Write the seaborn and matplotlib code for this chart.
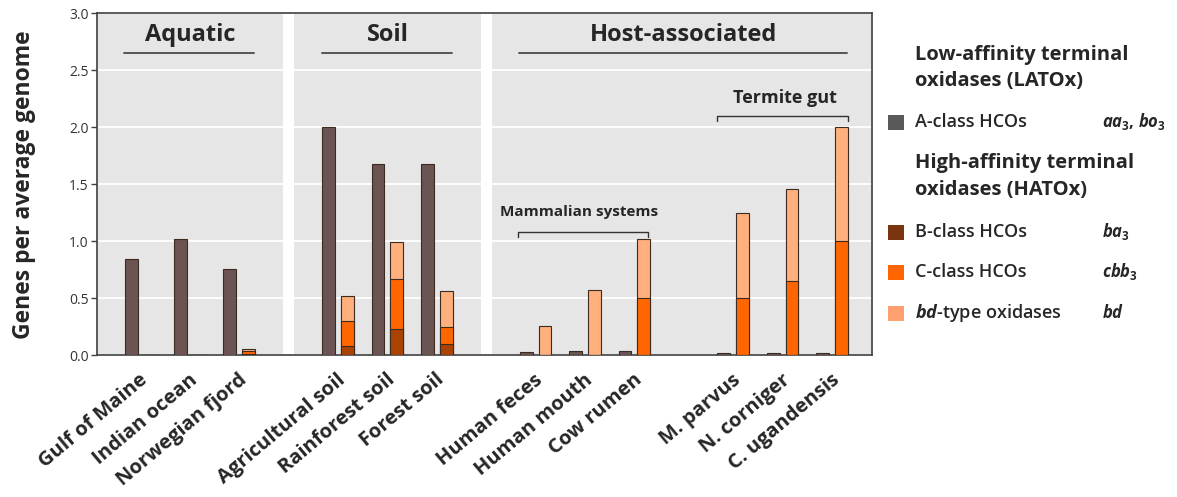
import numpy as np
import pandas as pd
import matplotlib
matplotlib.use("Agg")
import matplotlib.pyplot as plt
import seaborn as sns
from matplotlib.patches import Rectangle

# ---------------- data ----------------
categories = ["Gulf of Maine", "Indian ocean", "Norwegian fjord",
              "Agricultural soil", "Rainforest soil", "Forest soil",
              "Human feces", "Human mouth", "Cow rumen",
              "M. parvus", "N. corniger", "C. ugandensis"]
group_index = [0, 0, 0, 1, 1, 1, 2, 2, 2, 3, 3, 3]
latox   = [0.845, 1.02, 0.757, 2.00, 1.678, 1.678, 0.026, 0.037, 0.037, 0.02, 0.02, 0.02]
b_class = [0.0, 0.0, 0.01, 0.085, 0.234, 0.096, 0.0, 0.0, 0.0, 0.0, 0.0, 0.0]
c_class = [0.0, 0.0, 0.025, 0.215, 0.438, 0.152, 0.0, 0.0, 0.50, 0.50, 0.654, 1.00]
bd_type = [0.0, 0.0, 0.02, 0.223, 0.322, 0.319, 0.257, 0.573, 0.52, 0.75, 0.805, 1.00]
y_ticks = [0.0, 0.5, 1.0, 1.5, 2.0, 2.5, 3.0]

# ---------------- style ----------------
sns.set_theme(style="white")
plt.rcParams["font.family"] = ["Open Sans", "DejaVu Sans"]
plt.rcParams["mathtext.fontset"] = "custom"
plt.rcParams["mathtext.it"] = "Open Sans:italic:bold"
plt.rcParams["mathtext.rm"] = "Open Sans:bold"
plt.rcParams["mathtext.bf"] = "Open Sans:bold"

col_a = "#6b5452"
col_b = "#a84300"
col_c = "#ff6600"
col_bd = "#ffb07c"
edge = "#3d2b22"

pos = np.arange(len(categories)) + np.array(group_index)
df = pd.DataFrame({"category": categories, "pos": pos, "latox": latox,
                   "b": b_class, "c": c_class, "bd": bd_type})
df["b_top"] = df["b"]
df["c_top"] = df["b"] + df["c"]
df["bd_top"] = df["b"] + df["c"] + df["bd"]

W, H = 1177, 497
fig = plt.figure(figsize=(W / 100, H / 100), dpi=100)
ax = fig.add_axes([97 / W, 1 - 355.3 / H, (872 - 97) / W, (355.3 - 13.3) / H])
ax.set_facecolor("#e6e6e6")

off = 0.19
bw = 0.26
sns.barplot(x=df["pos"] - off, y=df["latox"], native_scale=True, width=bw,
            color=col_a, saturation=1, edgecolor=edge, linewidth=0.8,
            errorbar=None, ax=ax, zorder=3)
for colname, color in [("bd_top", col_bd), ("c_top", col_c), ("b_top", col_b)]:
    sns.barplot(x=df["pos"] + off, y=df[colname], native_scale=True, width=bw,
                color=color, saturation=1, edgecolor=edge, linewidth=0.8,
                errorbar=None, ax=ax, zorder=3)

ax.set_xlim(-0.88, 14.81)
ax.set_ylim(0, 3.0)
ax.set_yticks(y_ticks)
ax.set_yticklabels([f"{t:.1f}" for t in y_ticks], fontsize=10, color="#333333")
ax.yaxis.grid(True, color="white", linewidth=1.3, zorder=0)
ax.xaxis.grid(False)
ax.set_axisbelow(True)
for gx in [3, 7]:
    ax.axvspan(gx - 0.11, gx + 0.11, color="white", zorder=1, lw=0)
for s in ax.spines.values():
    s.set_color("#404040")
    s.set_linewidth(1.2)
ax.tick_params(axis="y", length=4, width=1, color="#404040", left=True, pad=2)
ax.tick_params(axis="x", length=0, pad=16)
ax.set_xticks(pos + 0.1)
ax.set_xticklabels(categories, rotation=40, ha="right", va="center",
                   rotation_mode="anchor", fontsize=14.5, fontweight="bold")
ax.set_xlabel("")
ax.set_ylabel("Genes per average genome", fontsize=16.5, fontweight="bold", labelpad=24)

# group headers
line_y = 2.655
title_y = 2.81
headers = [("Aquatic", 0, 2), ("Soil", 4, 6), ("Host-associated", 8, 14)]
for name, p0, p1 in headers:
    ax.plot([p0 - 0.33, p1 + 0.3], [line_y, line_y], color="#555555", lw=1.4, zorder=4)
    ax.text((p0 + p1) / 2, title_y, name, ha="center", va="center",
            fontsize=17, fontweight="bold", zorder=4)

# sub brackets
def bracket(x0, x1, y, text, tx, ty, size):
    ax.plot([x0, x0, x1, x1], [y - 0.045, y, y, y - 0.045], color="#333333", lw=1.0, zorder=4)
    ax.text(tx, ty, text, ha="left", va="center", fontsize=size,
            fontweight="bold", zorder=4)

bracket(7.65, 10.27, 1.084, "Mammalian systems", 7.28, 1.257, 11)
bracket(11.67, 14.32, 2.10, "Termite gut", 11.99, 2.257, 13)

# legend
def fx(px):
    return px / W

def fy(py):
    return 1 - py / H

fig.text(fx(915), fy(55), "Low-affinity terminal", fontsize=14.5, fontweight="bold", va="center")
fig.text(fx(915), fy(81), "oxidases (LATOx)", fontsize=14.5, fontweight="bold", va="center")
fig.text(fx(915), fy(163), "High-affinity terminal", fontsize=14.5, fontweight="bold", va="center")
fig.text(fx(915), fy(190), "oxidases (HATOx)", fontsize=14.5, fontweight="bold", va="center")

legend_items = [
    (122, "#595959", "A-class HCOs", r"$aa_3$, $bo_3$"),
    (232, "#7a3510", "B-class HCOs", r"$ba_3$"),
    (272, col_c, "C-class HCOs", r"$cbb_3$"),
    (313, "#ffa070", r"$bd$-type oxidases", r"$bd$"),
]
for py, color, label, sub in legend_items:
    fig.patches.append(Rectangle((fx(888), fy(py + 7.5)), 16 / W, 15 / H,
                                 transform=fig.transFigure, facecolor=color,
                                 edgecolor="none"))
    fig.text(fx(915), fy(py), label, fontsize=13, fontweight="semibold", va="center")
    fig.text(fx(1102), fy(py), sub, fontsize=12, fontweight="bold", va="center")

fig.savefig("out.png", dpi=100)
